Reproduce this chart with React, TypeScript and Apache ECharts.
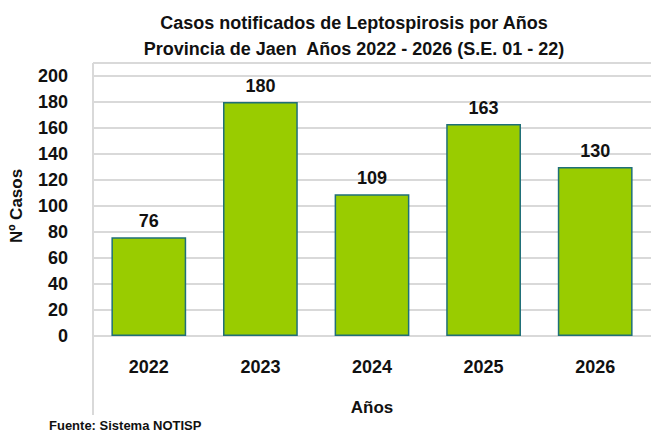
import React, { useEffect, useRef } from "react";
import * as echarts from "echarts";

const categories = ["2022", "2023", "2024", "2025", "2026"];
const casos = [76, 180, 109, 163, 130];
const titleLines = [
  "Casos notificados de Leptospirosis por Años",
  "Provincia de Jaen  Años 2022 - 2026 (S.E. 01 - 22)",
];
const yAxisName = "Nº Casos";
const xAxisName = "Años";
const sourceText = "Fuente: Sistema NOTISP";

const FONT = "'Liberation Sans', Arial, sans-serif";

export default function App() {
  const ref = useRef<HTMLDivElement>(null);
  useEffect(() => {
    if (!ref.current) return;
    const chart = echarts.init(ref.current, null, { renderer: "svg" });
    chart.setOption({
      animation: false,
      backgroundColor: "#ffffff",
      title: {
        text: titleLines.join("\n"),
        left: 349,
        textAlign: "center",
        top: 5,
        textStyle: {
          fontFamily: FONT,
          fontWeight: "bold",
          fontSize: 18,
          lineHeight: 26,
          color: "#111",
        },
      },
      grid: { left: 93, top: 76, width: 560, bottom: 97, containLabel: false },
      xAxis: {
        type: "category",
        data: categories,
        name: xAxisName,
        nameLocation: "middle",
        nameGap: 63,
        nameTextStyle: { fontFamily: FONT, fontWeight: "bold", fontSize: 17, color: "#111" },
        axisLine: { show: true, lineStyle: { color: "#d9d9d9", width: 2 } },
        axisTick: { show: false },
        axisLabel: {
          fontFamily: FONT,
          fontWeight: "bold",
          fontSize: 18,
          color: "#111",
          margin: 22,
        },
      },
      yAxis: {
        type: "value",
        min: 0,
        max: 200,
        interval: 20,
        name: yAxisName,
        nameLocation: "middle",
        nameGap: 68,
        nameRotate: 90,
        nameTextStyle: { fontFamily: FONT, fontWeight: "bold", fontSize: 17, color: "#111" },
        axisLine: { show: false },
        axisTick: { show: false },
        splitLine: { show: true, lineStyle: { color: "#d9d9d9", width: 2 } },
        axisLabel: {
          fontFamily: FONT,
          fontWeight: "bold",
          fontSize: 18,
          color: "#111",
          margin: 25,
        },
      },
      series: [
        {
          type: "bar",
          data: casos,
          barWidth: "67%",
          itemStyle: { color: "#99cc00", borderColor: "#1f6f78", borderWidth: 1.5 },
          label: {
            show: true,
            position: "top",
            distance: 7,
            fontFamily: FONT,
            fontWeight: "bold",
            fontSize: 18,
            color: "#111",
          },
        },
      ],
      graphic: [
        {
          type: "line",
          shape: { x1: 93, y1: 63, x2: 651, y2: 63 },
          style: { stroke: "#d9d9d9", lineWidth: 2 },
        },
        {
          type: "line",
          shape: { x1: 93, y1: 63, x2: 93, y2: 415 },
          style: { stroke: "#d9d9d9", lineWidth: 2 },
        },
        {
          type: "text",
          left: 49,
          top: 419,
          style: {
            text: sourceText,
            fontFamily: "'Liberation Sans Narrow', 'Liberation Sans', Arial, sans-serif",
            fontWeight: "bold",
            fontSize: 13,
            fill: "#111",
          },
        },
      ],
    });
    return () => chart.dispose();
  }, []);
  return <div ref={ref} style={{ width: 651, height: 433, position: "absolute", left: 0, top: 0 }} />;
}
